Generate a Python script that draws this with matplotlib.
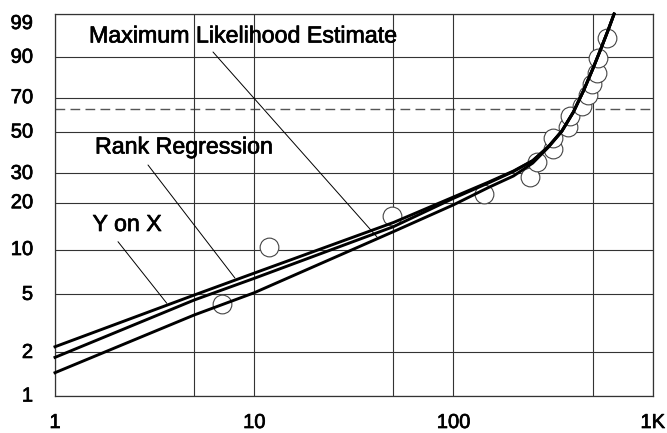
import numpy as np
import matplotlib
matplotlib.use("Agg")
import matplotlib.pyplot as plt
import matplotlib.patheffects as pe

plt.rcParams['font.family'] = ['Liberation Sans', 'DejaVu Sans']

# Failure times and their median ranks (%)
fail_time = [6.9, 11.9, 49, 142, 242, 262, 317, 317, 377, 385, 440, 475, 494, 528, 530, 588]
fail_rank = [4.3, 10.4, 16.5, 22.6, 28.7, 34.8, 40.9, 47.0, 53.0, 59.1,
             65.2, 71.3, 77.4, 83.5, 89.6, 95.7]

# Fitted distribution lines (unreliability %)
curve_time = [1, 5, 10, 50, 100, 150, 200, 250, 300, 350, 400, 450, 500, 550, 600, 640]
y_on_x = [2.19, 4.95, 6.96, 15.0, 21.7, 26.7, 31.0, 35.5, 42.3, 50.6, 61.6, 74.1, 85.1, 92.9, 97.3, 99.0]
rank_reg = [1.85, 4.58, 6.42, 14.1, 21.3, 26.4, 30.8, 35.5, 42.3, 50.6, 61.6, 74.1, 85.1, 92.9, 97.3, 99.0]
mle = [1.45, 3.62, 5.13, 13.1, 19.4, 24.8, 29.0, 34.4, 42.0, 50.4, 61.5, 74.0, 85.1, 92.9, 97.3, 99.0]

eta_level = 63.2

x_grid = [1, 5, 10, 50, 100, 500, 1000]
x_labels = {1: "1", 10: "10", 100: "100", 1000: "1K"}
y_grid = [1, 2, 5, 10, 20, 30, 50, 70, 90, 99]


def weib_fwd(p):
    p = np.clip(np.asarray(p, dtype=float), 1e-6, 100 - 1e-6)
    return np.log(-np.log(1 - p / 100.0))


def weib_inv(u):
    return 100.0 * (1 - np.exp(-np.exp(np.asarray(u, dtype=float))))


W, H = 667, 433
fig = plt.figure(figsize=(W / 100, H / 100), dpi=100)
ax = fig.add_axes([55 / W, 1 - 396 / H, (652.7 - 55) / W, (396 - 14) / H])

ax.set_xscale('log')
ax.set_yscale('function', functions=(weib_fwd, weib_inv))
ax.set_xlim(1, 1000)
ax.set_ylim(1, 99)

grid_col = '#333333'
ax.set_xticks(x_grid)
ax.set_yticks(y_grid)
ax.minorticks_off()
ax.tick_params(length=0, labelbottom=False, labelleft=False)
ax.grid(True, color=grid_col, lw=0.8, zorder=1)
for s in ax.spines.values():
    s.set_color(grid_col)
    s.set_linewidth(0.9)

# characteristic-life reference line
ax.axhline(eta_level, color='#555555', lw=1.0, dashes=(7, 3.8), zorder=1.5)

# data points
ax.plot(fail_time, fail_rank, 'o', ms=13.5, mfc='white', mec='#444444', mew=0.8, zorder=2)

# fitted lines
for ys in (y_on_x, rank_reg, mle):
    ax.plot(curve_time, ys, color='black', lw=2.1, zorder=3, clip_on=False,
            solid_joinstyle='round')

# slightly heavier text strokes
heavy = [pe.withStroke(linewidth=0.5, foreground='black')]

# tick labels
tfs = 14.5
for v in y_grid:
    ax.annotate(str(v), xy=(0, v), xycoords=('axes fraction', 'data'),
                xytext=(-22, 0), textcoords='offset pixels',
                ha='right', va='top' if v == 99 else 'center', fontsize=tfs,
                path_effects=heavy)
for v, lab in x_labels.items():
    ax.annotate(lab, xy=(v, 0), xycoords=('data', 'axes fraction'),
                xytext=(0, -17), textcoords='offset pixels',
                ha='center', va='top', fontsize=tfs, path_effects=heavy)

# line labels with leaders
lfs = 16.7
labels = [
    ("Maximum Likelihood Estimate", (89, 42.5), (213, 52), (41.3, 12.1)),
    ("Rank Regression", (95, 153.5), (148, 165), (8.0, 6.45)),
    ("Y on X", (92.5, 231), (118, 241.7), (3.64, 4.35)),
]
for text, (tx, ty), (lx, ly), target in labels:
    fig.text(tx / W, 1 - ty / H, text, fontsize=lfs, ha='left', va='baseline',
             path_effects=heavy)
    ax.annotate('', xy=target, xycoords='data',
                xytext=(lx, H - ly), textcoords='figure pixels',
                arrowprops=dict(arrowstyle='-', color='black', lw=0.7,
                                shrinkA=0, shrinkB=0))

fig.savefig('out.png', dpi=100)
